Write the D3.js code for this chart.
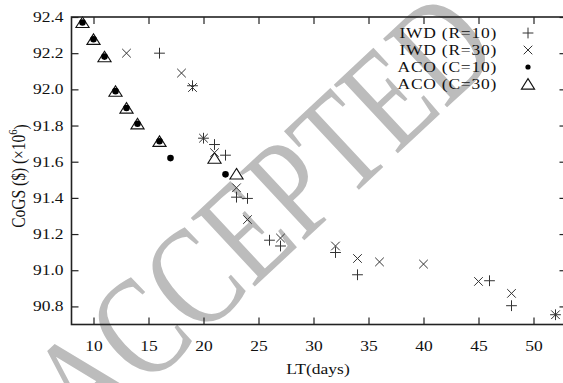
<!DOCTYPE html>
<html>
<head>
<meta charset="utf-8">
<script src="https://cdn.jsdelivr.net/npm/d3@7"></script>
<style>
  body { margin: 0; background: #fff; }
  text { font-family: "Liberation Serif", "Times New Roman", serif; fill: #111; }
</style>
</head>
<body>
<svg id="chart" width="563" height="383"></svg>
<script>
// Lead time (days) and cost of goods sold (millions of $) per method
const iwdR10Days = [16, 19, 20, 21, 22, 23, 24, 26, 27, 32, 34, 46, 48, 52];
const iwdR10Cost = [92.20, 92.02, 91.73, 91.695, 91.636, 91.404, 91.397, 91.166, 91.134, 91.098, 90.975, 90.942, 90.804, 90.754];

const iwdR30Days = [13, 18, 19, 20, 21, 23, 24, 27, 32, 34, 36, 40, 45, 48, 52];
const iwdR30Cost = [92.20, 92.09, 92.01, 91.73, 91.65, 91.456, 91.28, 91.178, 91.134, 91.065, 91.046, 91.034, 90.938, 90.872, 90.754];

const acoC10Days = [9, 10, 11, 12, 13, 14, 16, 17, 22];
const acoC10Cost = [92.37, 92.277, 92.181, 91.99, 91.897, 91.81, 91.713, 91.62, 91.53];

const acoC30Days = [9, 10, 11, 12, 13, 14, 16, 21, 23];
const acoC30Cost = [92.37, 92.277, 92.181, 91.99, 91.897, 91.81, 91.713, 91.62, 91.533];

const seriesNames = ["IWD (R=10)", "IWD (R=30)", "ACO (C=10)", "ACO (C=30)"];
const xTickValues = [10, 15, 20, 25, 30, 35, 40, 45, 50];
const yTickValues = [90.8, 91.0, 91.2, 91.4, 91.6, 91.8, 92.0, 92.2, 92.4];

const svg = d3.select("#chart");
const stretch = 1.25;           // wide serif lettering
const plotLeft = 71.5, plotRight = 566.5, plotTop = 17, plotBottom = 324.5;

const x = d3.scaleLinear().domain([8, 53]).range([plotLeft, plotRight]);
const y = d3.scaleLinear().domain([90.7, 92.4]).range([plotBottom, plotTop]);

// Watermark behind the plot
svg.append("text")
  .attr("transform", "translate(262,214) rotate(-43) scale(0.86,1.12)")
  .attr("text-anchor", "middle")
  .attr("dominant-baseline", "central")
  .style("font-size", "128px")
  .style("fill", "#bcbcbc")
  .text("ACCEPTED");

// Custom marker shapes
const plusSym = { draw(ctx, s) { ctx.moveTo(-s, 0); ctx.lineTo(s, 0); ctx.moveTo(0, -s); ctx.lineTo(0, s); } };
const timesSym = { draw(ctx, s) { ctx.moveTo(-s, -s); ctx.lineTo(s, s); ctx.moveTo(-s, s); ctx.lineTo(s, -s); } };
const triSym = { draw(ctx, s) { ctx.moveTo(0, -s * 0.82); ctx.lineTo(s, s * 0.78); ctx.lineTo(-s, s * 0.78); ctx.closePath(); } };

const plusPath = d3.symbol().type(plusSym).size(5.4)();
const timesPath = d3.symbol().type(timesSym).size(4.3)();
const triPath = d3.symbol().type(triSym).size(6.6)();

const plot = svg.append("g");

function pairs(xs, ys) { return xs.map((d, i) => [d, ys[i]]); }

plot.selectAll(".tri").data(pairs(acoC30Days, acoC30Cost)).join("path")
  .attr("d", triPath)
  .attr("transform", d => `translate(${x(d[0])},${y(d[1])})`)
  .attr("fill", "none").attr("stroke", "#111").attr("stroke-width", 1.1);

plot.selectAll(".dot").data(pairs(acoC10Days, acoC10Cost)).join("circle")
  .attr("cx", d => x(d[0])).attr("cy", d => y(d[1])).attr("r", 3.3)
  .attr("fill", "#000");

plot.selectAll(".plus").data(pairs(iwdR10Days, iwdR10Cost)).join("path")
  .attr("d", plusPath)
  .attr("transform", d => `translate(${x(d[0])},${y(d[1])})`)
  .attr("fill", "none").attr("stroke", "#333").attr("stroke-width", 1);

plot.selectAll(".times").data(pairs(iwdR30Days, iwdR30Cost)).join("path")
  .attr("d", timesPath)
  .attr("transform", d => `translate(${x(d[0])},${y(d[1])})`)
  .attr("fill", "none").attr("stroke", "#333").attr("stroke-width", 1);

// Axes with inward ticks, mirrored on top and right
const tickLen = 7;
function styleAxis(g) {
  g.select(".domain").remove();
  g.selectAll(".tick line").attr("stroke", "#222").attr("stroke-width", 1.2);
}
const gx = svg.append("g").attr("transform", `translate(0,${plotBottom})`)
  .call(d3.axisBottom(x).tickValues(xTickValues).tickSize(-tickLen).tickPadding(17).tickFormat(d3.format("d")))
  .call(styleAxis);
gx.selectAll("text").attr("transform", `scale(${stretch},1)`)
  .style("font-size", "14px").attr("fill", "#111");

const gy = svg.append("g").attr("transform", `translate(${plotLeft},0)`)
  .call(d3.axisLeft(y).tickValues(yTickValues).tickSize(-tickLen).tickPadding(8).tickFormat(d3.format(".1f")))
  .call(styleAxis);
gy.selectAll("text").attr("x", -8 / stretch).attr("transform", `scale(${stretch},1)`)
  .style("font-size", "14px").attr("fill", "#111");

svg.append("g").attr("transform", `translate(0,${plotTop})`)
  .call(d3.axisTop(x).tickValues(xTickValues).tickSize(-tickLen).tickFormat(""))
  .call(styleAxis);
svg.append("g").attr("transform", `translate(${plotRight},0)`)
  .call(d3.axisRight(y).tickValues(yTickValues).tickSize(-tickLen).tickFormat(""))
  .call(styleAxis);

svg.append("rect")
  .attr("x", plotLeft).attr("y", plotTop).attr("width", plotRight - plotLeft).attr("height", plotBottom - plotTop)
  .attr("fill", "none").attr("stroke", "#222").attr("stroke-width", 1.6);

// Axis titles
svg.append("text")
  .attr("transform", `translate(318,369) scale(${stretch},1)`)
  .attr("text-anchor", "middle").attr("dominant-baseline", "central")
  .style("font-size", "14px")
  .text("LT(days)");

const yTitle = svg.append("text")
  .attr("transform", `translate(18,176) scale(${stretch},1) rotate(-90)`)
  .attr("text-anchor", "middle").attr("dominant-baseline", "central")
  .style("font-size", "15.5px");
yTitle.append("tspan").text("CoGS ($) (×10");
yTitle.append("tspan").attr("dy", "-0.45em").style("font-size", "10.5px").text("6");
yTitle.append("tspan").attr("dy", "0.45em").text(")");

// Legend
const legendY = [33, 50, 67, 84];
const legendSyms = ["plus", "times", "dot", "tri"];
const legend = svg.append("g");
seriesNames.forEach((name, i) => {
  legend.append("text")
    .attr("transform", `translate(497,${legendY[i]}) scale(${stretch},1)`)
    .attr("text-anchor", "end").attr("dominant-baseline", "central")
    .style("font-size", "14px")
    .style("letter-spacing", "0.6px")
    .text(name);
  const sx = 528, sy = legendY[i];
  if (legendSyms[i] === "plus") {
    legend.append("path").attr("d", plusPath).attr("transform", `translate(${sx},${sy})`)
      .attr("fill", "none").attr("stroke", "#333").attr("stroke-width", 1);
  } else if (legendSyms[i] === "times") {
    legend.append("path").attr("d", timesPath).attr("transform", `translate(${sx},${sy})`)
      .attr("fill", "none").attr("stroke", "#333").attr("stroke-width", 1);
  } else if (legendSyms[i] === "dot") {
    legend.append("circle").attr("cx", sx).attr("cy", sy).attr("r", 2.6).attr("fill", "#000");
  } else {
    legend.append("path").attr("d", triPath).attr("transform", `translate(${sx},${sy})`)
      .attr("fill", "none").attr("stroke", "#111").attr("stroke-width", 1.1);
  }
});
</script>
</body>
</html>
